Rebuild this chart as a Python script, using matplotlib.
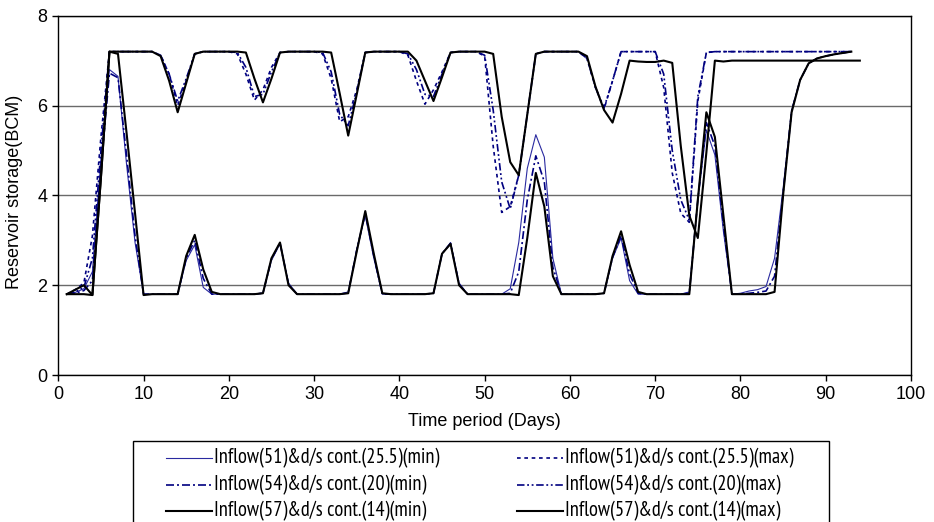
import matplotlib
matplotlib.use("Agg")
import matplotlib.pyplot as plt
from matplotlib.lines import Line2D
from matplotlib.patches import Rectangle
from matplotlib import font_manager
from matplotlib.font_manager import FontProperties

# reservoir storage (BCM), one value per day, days 1..93 (57 max runs to 94)
days = list(range(1, 94))
days_long = list(range(1, 95))

s51_min = [1.80, 1.84, 1.92, 2.30, 4.80, 6.80, 6.65, 4.70, 2.95, 1.80,
           1.80, 1.80, 1.80, 1.80, 2.55, 2.90, 1.95, 1.80, 1.80, 1.80,
           1.80, 1.80, 1.80, 1.83, 2.55, 2.92, 2.05, 1.80, 1.80, 1.80,
           1.80, 1.80, 1.80, 1.85, 2.80, 3.55, 2.60, 1.80, 1.80, 1.80,
           1.80, 1.80, 1.80, 1.82, 2.70, 2.95, 2.05, 1.80, 1.80, 1.80,
           1.80, 1.80, 1.92, 2.95, 4.60, 5.35, 4.85, 2.60, 1.80, 1.80,
           1.80, 1.80, 1.80, 1.82, 2.60, 3.05, 2.10, 1.80, 1.80, 1.80,
           1.80, 1.80, 1.80, 1.85, 3.90, 5.45, 4.90, 3.20, 1.80, 1.82,
           1.87, 1.90, 1.97, 2.60, 4.15, 5.90, 6.57, 6.94, 7.05, 7.10,
           7.14, 7.17, 7.20]

s51_max = [1.80, 1.90, 2.05, 3.10, 5.30, 7.20, 7.20, 7.20, 7.20, 7.20,
           7.20, 7.12, 6.70, 6.00, 6.55, 7.15, 7.20, 7.20, 7.20, 7.20,
           7.15, 6.70, 6.12, 6.35, 6.85, 7.18, 7.20, 7.20, 7.20, 7.20,
           7.15, 6.60, 5.64, 5.75, 6.35, 7.18, 7.20, 7.20, 7.20, 7.20,
           7.12, 6.55, 6.03, 6.35, 6.75, 7.18, 7.20, 7.20, 7.20, 7.10,
           5.10, 3.62, 3.75, 4.45, 5.80, 7.15, 7.20, 7.20, 7.20, 7.20,
           7.20, 7.05, 6.40, 5.92, 6.55, 7.20, 7.20, 7.20, 7.20, 7.20,
           6.40, 4.50, 3.60, 3.40, 6.10, 7.18, 7.20, 7.20, 7.20, 7.20,
           7.20, 7.20, 7.20, 7.20, 7.20, 7.20, 7.20, 7.20, 7.20, 7.20,
           7.20, 7.20, 7.20]

s54_min = [1.80, 1.82, 1.88, 2.10, 4.60, 6.72, 6.62, 4.90, 3.10, 1.80,
           1.80, 1.80, 1.80, 1.80, 2.60, 3.00, 2.15, 1.80, 1.80, 1.80,
           1.80, 1.80, 1.80, 1.82, 2.58, 2.94, 2.02, 1.80, 1.80, 1.80,
           1.80, 1.80, 1.80, 1.83, 2.78, 3.60, 2.65, 1.80, 1.80, 1.80,
           1.80, 1.80, 1.80, 1.82, 2.70, 2.93, 2.02, 1.80, 1.80, 1.80,
           1.80, 1.80, 1.82, 2.30, 3.90, 4.88, 4.30, 2.40, 1.80, 1.80,
           1.80, 1.80, 1.80, 1.82, 2.62, 3.10, 2.25, 1.82, 1.80, 1.80,
           1.80, 1.80, 1.80, 1.82, 3.90, 5.62, 5.10, 3.35, 1.80, 1.80,
           1.82, 1.84, 1.87, 2.20, 4.05, 5.88, 6.57, 6.94, 7.05, 7.10,
           7.14, 7.17, 7.20]

s54_max = [1.80, 1.85, 1.95, 2.60, 5.00, 7.20, 7.20, 7.20, 7.20, 7.20,
           7.20, 7.12, 6.70, 6.10, 6.60, 7.15, 7.20, 7.20, 7.20, 7.20,
           7.18, 6.85, 6.20, 6.25, 6.75, 7.18, 7.20, 7.20, 7.20, 7.20,
           7.18, 6.75, 5.80, 5.55, 6.30, 7.18, 7.20, 7.20, 7.20, 7.20,
           7.15, 6.80, 6.25, 6.20, 6.70, 7.18, 7.20, 7.20, 7.20, 7.12,
           5.90, 4.30, 3.70, 4.45, 5.80, 7.15, 7.20, 7.20, 7.20, 7.20,
           7.20, 7.05, 6.40, 5.95, 6.55, 7.20, 7.20, 7.20, 7.20, 7.20,
           6.70, 5.00, 3.90, 3.45, 6.20, 7.18, 7.20, 7.20, 7.20, 7.20,
           7.20, 7.20, 7.20, 7.20, 7.20, 7.20, 7.20, 7.20, 7.20, 7.20,
           7.20, 7.20, 7.20]

s57_min = [1.80, 1.80, 1.80, 1.78, 4.40, 7.20, 7.15, 5.40, 3.60, 1.78,
           1.80, 1.80, 1.80, 1.80, 2.65, 3.12, 2.35, 1.85, 1.80, 1.80,
           1.80, 1.80, 1.80, 1.82, 2.60, 2.95, 2.00, 1.80, 1.80, 1.80,
           1.80, 1.80, 1.80, 1.82, 2.75, 3.65, 2.70, 1.82, 1.80, 1.80,
           1.80, 1.80, 1.80, 1.82, 2.70, 2.92, 2.00, 1.80, 1.80, 1.80,
           1.80, 1.80, 1.80, 1.78, 3.05, 4.50, 3.75, 2.20, 1.80, 1.80,
           1.80, 1.80, 1.80, 1.82, 2.65, 3.20, 2.45, 1.85, 1.80, 1.80,
           1.80, 1.80, 1.80, 1.80, 3.90, 5.85, 5.30, 3.55, 1.80, 1.80,
           1.80, 1.80, 1.80, 1.85, 4.00, 5.85, 6.57, 6.94, 7.05, 7.10,
           7.14, 7.17, 7.20]

s57_max = [1.80, 1.90, 2.00, 1.78, 4.40, 7.20, 7.20, 7.20, 7.20, 7.20,
           7.20, 7.10, 6.55, 5.85, 6.50, 7.15, 7.20, 7.20, 7.20, 7.20,
           7.20, 7.18, 6.60, 6.07, 6.60, 7.18, 7.20, 7.20, 7.20, 7.20,
           7.20, 7.18, 6.27, 5.33, 6.25, 7.18, 7.20, 7.20, 7.20, 7.20,
           7.20, 7.00, 6.55, 6.10, 6.63, 7.18, 7.20, 7.20, 7.20, 7.20,
           7.15, 5.75, 4.74, 4.45, 5.80, 7.15, 7.20, 7.20, 7.20, 7.20,
           7.20, 7.10, 6.42, 5.90, 5.62, 6.26, 7.00, 6.98, 6.97, 6.97,
           7.00, 6.95, 5.10, 3.55, 3.05, 4.95, 7.00, 6.98, 7.00, 7.00,
           7.00, 7.00, 7.00, 7.00, 7.00, 7.00, 7.00, 7.00, 7.00, 7.00,
           7.00, 7.00, 7.00, 7.00]

labels = ['Inflow(51)&d/s cont.(25.5)(min)', 'Inflow(51)&d/s cont.(25.5)(max)',
          'Inflow(54)&d/s cont.(20)(min)', 'Inflow(54)&d/s cont.(20)(max)',
          'Inflow(57)&d/s cont.(14)(min)', 'Inflow(57)&d/s cont.(14)(max)']

plt.rcParams['font.family'] = ['Liberation Sans', 'DejaVu Sans']


def narrow_font():
    # look for a condensed sans face, else fall back to Liberation Sans
    best = None
    for f in font_manager.fontManager.ttflist:
        if f.style != 'normal' or f.weight not in (400, 'normal', 'regular'):
            continue
        fn = f.fname.lower()
        if 'narrow' in fn and 'sans' in fn:
            return FontProperties(fname=f.fname)
        if 'condensed' in fn and 'dejavusans' in fn.replace('-', '') and best is None:
            best = f.fname
    if best:
        return FontProperties(fname=best)
    return FontProperties(family='Liberation Sans')


navy = '#000080'
W, H = 934, 522
fig = plt.figure(figsize=(W / 100, H / 100), dpi=100)
ax = fig.add_axes([58.3 / W, 1 - 375 / H, (911 - 58.3) / W, (375 - 15.7) / H])

styles = [dict(color='#2a2aa0', lw=0.8),
          dict(color=navy, lw=1.2, dashes=(2.2, 2.2)),
          dict(color=navy, lw=1.2, dashes=(4.8, 1.8, 1.2, 1.8)),
          dict(color=navy, lw=1.2, dashes=(4.5, 1.6, 1.1, 1.6, 1.1, 1.6)),
          dict(color='black', lw=1.5),
          dict(color='black', lw=1.5)]
xs = [days, days, days, days, days, days_long]
ys = [s51_min, s51_max, s54_min, s54_max, s57_min, s57_max]
for x, y, st in zip(xs, ys, styles):
    ax.plot(x, y, **st)

ax.set_xlim(0, 100)
ax.set_ylim(0, 8)
ax.set_xticks(range(0, 101, 10))
ax.set_yticks(range(0, 9, 2))
ax.grid(axis='y', color='#6a6a6a', lw=1)
ax.set_axisbelow(True)
for sp in ax.spines.values():
    sp.set_color('black')
    sp.set_linewidth(1)
ax.tick_params(direction='out', length=4, width=1, labelsize=13, pad=4)

fig.text(15 / W, 1 - 192 / H, 'Reservoir storage(BCM)', rotation=90,
         ha='center', va='center', fontsize=13)
fig.text(484 / W, 1 - 421 / H, 'Time period (Days)', ha='center', va='center',
         fontsize=13)

# legend: frame runs off the bottom of the figure
fig.patches.append(Rectangle((133 / W, -0.05), (829 - 133) / W, 0.05 + 1 - 441 / H,
                             transform=fig.transFigure, fill=False,
                             edgecolor='black', lw=1))

fp = narrow_font()
fp.set_size(12.5)
# size the legend text so the widest label spans about 228 px
probe = fig.text(0, 0, labels[1], fontproperties=fp)
fig.canvas.draw()
wpx = probe.get_window_extent().width
probe.remove()
fp.set_size(12.5 * 228 / wpx)

rows_y = [458, 484.5, 511]
for i, (lab, st) in enumerate(zip(labels, styles)):
    r, c = i // 2, i % 2
    hx = [166, 517][c]
    yy = 1 - rows_y[r] / H
    fig.lines.append(Line2D([hx / W, (hx + 46) / W], [yy, yy],
                            transform=fig.transFigure, **st))
    fig.text((hx + 48) / W, yy, lab, fontproperties=fp, va='center', ha='left')

fig.savefig('out.png', dpi=100)
